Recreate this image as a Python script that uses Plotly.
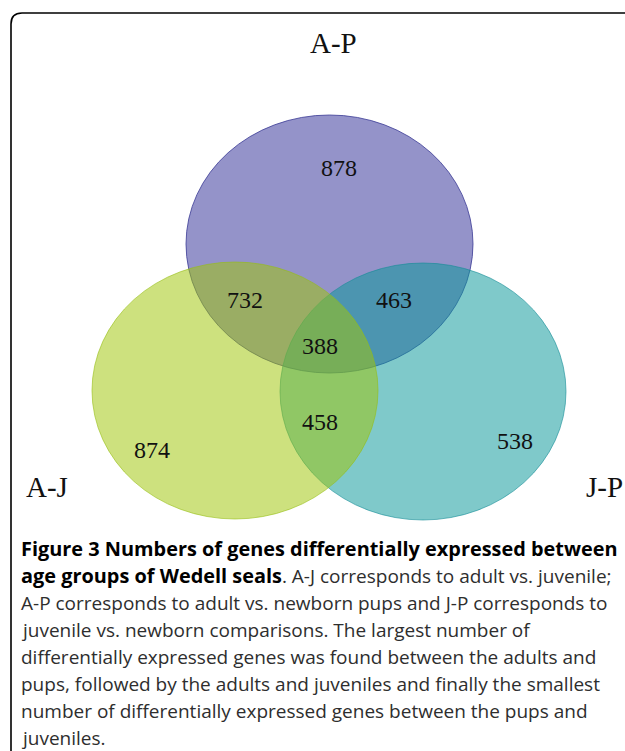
import plotly.graph_objects as go

# ---- data ----
set_names = ["A-P", "A-J", "J-P"]
region_names = ["A-P only", "A-P & A-J", "A-P & J-P", "all three", "A-J & J-P", "A-J only", "J-P only"]
region_counts = [878, 732, 463, 388, 458, 874, 538]

caption_bold = ["Figure 3 Numbers of genes differentially expressed between",
                "age groups of Wedell seals"]
caption_lines = [
    "",
    ". A-J corresponds to adult vs. juvenile;",
    "A-P corresponds to adult vs. newborn pups and J-P corresponds to",
    "juvenile vs. newborn comparisons. The largest number of",
    "differentially expressed genes was found between the adults and",
    "pups, followed by the adults and juveniles and finally the smallest",
    "number of differentially expressed genes between the pups and",
    "juveniles.",
]

# ---- layout geometry (screen-pixel coordinates) ----
W, H = 625, 751
ellipses = {  # name: (cx, cy, rx, ry, fill, line); drawn bottom -> top
    "A-P": (329.5, 244, 143.5, 129, "rgba(50,48,152,0.52)", "rgba(60,60,150,0.8)"),
    "J-P": (423, 391.5, 143, 128.5, "rgba(10,152,154,0.52)", "rgba(20,140,150,0.6)"),
    "A-J": (235, 390.5, 143, 128.5, "rgba(160,198,8,0.52)", "rgba(150,190,20,0.6)"),
}
set_label_pos = {"A-P": (333, 43), "A-J": (47, 487), "J-P": (604, 487)}
count_pos = [(339, 168), (245, 300), (394, 300), (320, 346), (320, 422), (152, 450), (515, 441)]

fig = go.Figure()

shapes = []
for name in ["A-P", "J-P", "A-J"]:
    cx, cy, rx, ry, fill, line = ellipses[name]
    shapes.append(dict(type="circle", xref="x", yref="y",
                       x0=cx - rx, x1=cx + rx, y0=cy - ry, y1=cy + ry,
                       fillcolor=fill, line=dict(color=line, width=1), layer="above"))
# rounded frame
shapes.append(dict(type="path", xref="x", yref="y",
                   path="M 11,770 L 11,24 Q 11,13 22,13 L 650,13",
                   line=dict(color="black", width=1.6), layer="above"))

annotations = []
for name in set_names:
    x, y = set_label_pos[name]
    annotations.append(dict(x=x, y=y, xref="x", yref="y", text=name, showarrow=False,
                            font=dict(family="Liberation Serif", size=29, color="#111111"),
                            xanchor="center", yanchor="middle"))
for (x, y), c in zip(count_pos, region_counts):
    annotations.append(dict(x=x, y=y, xref="x", yref="y", text=str(c), showarrow=False,
                            font=dict(family="Liberation Serif", size=24, color="#111111"),
                            xanchor="center", yanchor="middle"))

BOLD = '<span style="font-size:19.9px;font-weight:bold;fill:#000000">{}</span>'
line_y0, line_dy = 548.5, 27.1
texts = []
texts.append(BOLD.format(caption_bold[0]))
texts.append(BOLD.format(caption_bold[1]) + caption_lines[1])
texts += caption_lines[2:]
for i, t in enumerate(texts):
    annotations.append(dict(x=19, y=line_y0 + i * line_dy, xref="x", yref="y", text=t,
                            showarrow=False, xanchor="left", yanchor="middle",
                            font=dict(family="Open Sans", size=19, color="#2e2e2e")))

fig.update_layout(
    width=W, height=H, margin=dict(l=0, r=0, t=0, b=0),
    paper_bgcolor="white", plot_bgcolor="white",
    xaxis=dict(range=[0, W], visible=False, fixedrange=True),
    yaxis=dict(range=[H, 0], visible=False, fixedrange=True),
    shapes=shapes, annotations=annotations, showlegend=False,
)
fig.write_html("out.html",
               config={"displayModeBar": False, "staticPlot": True},
               post_script="document.body.style.margin='0';document.body.style.overflow='hidden';")
